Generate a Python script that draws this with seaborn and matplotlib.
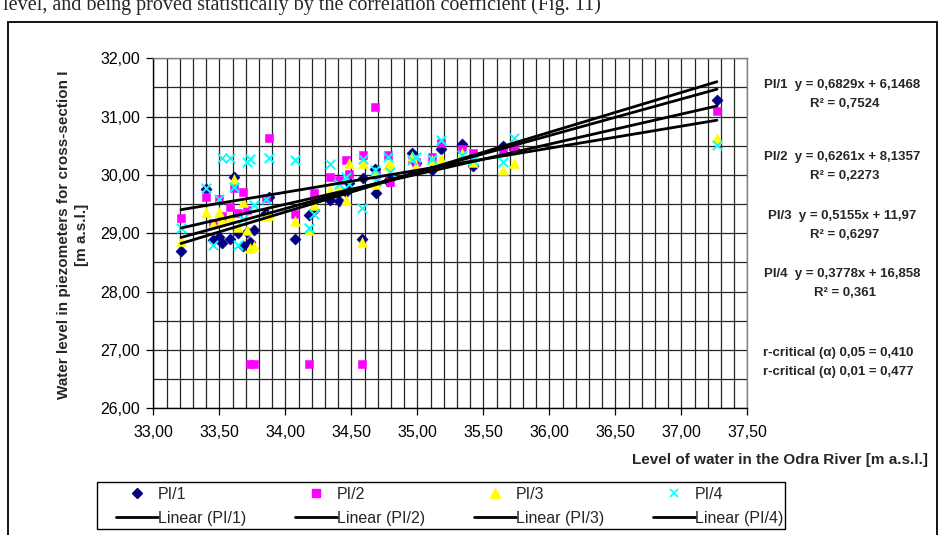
import numpy as np
import pandas as pd
import matplotlib
matplotlib.use("Agg")
import matplotlib.pyplot as plt
import seaborn as sns
from matplotlib.ticker import MultipleLocator, FuncFormatter
from matplotlib.lines import Line2D
from matplotlib.patches import Rectangle

# ---------------- data ----------------
river = [33.21, 33.40, 33.45, 33.50, 33.52, 33.58, 33.61, 33.64, 33.68, 33.71,
         33.73, 33.76, 33.85, 33.88, 34.07, 34.18, 34.22, 34.34, 34.41, 34.46,
         34.48, 34.58, 34.59, 34.68, 34.69, 34.78, 34.79, 34.96, 34.99, 35.11,
         35.18, 35.34, 35.42, 35.65, 35.73, 37.27]
pi1 = [28.70, 29.76, 28.88, 28.93, 28.84, 28.91, 29.97, 29.00, 28.78, 29.02,
       28.85, 29.05, 29.35, 29.62, 28.91, 29.31, 29.40, 29.57, 29.55, 29.70,
       29.87, 28.90, 29.94, 30.10, 29.69, 29.90, 29.95, 30.37, 30.20, 30.09,
       30.45, 30.53, 30.15, 30.50, 30.45, 31.29]
pi2 = [29.27, 29.62, 29.18, 29.59, 29.30, 29.45, 29.77, 29.34, 29.71, 29.40,
       26.76, 26.76, 29.60, 30.64, 29.33, 26.76, 29.69, 29.97, 29.92, 30.26,
       30.02, 26.76, 30.34, 31.17, 30.00, 30.34, 29.88, 30.27, 30.22, 30.31,
       30.54, 30.45, 30.38, 30.40, 30.48, 31.10]
pi3 = [28.86, 29.37, 29.16, 29.36, 29.22, 29.28, 29.93, 29.10, 29.53, 29.06,
       28.75, 28.79, 29.29, 29.32, 29.21, 29.06, 29.49, 29.74, 29.80, 29.57,
       30.21, 28.85, 30.20, 30.05, 29.85, 30.17, 30.21, 30.33, 30.15, 30.25,
       30.27, 30.37, 30.23, 30.09, 30.21, 30.64]
pi4 = [29.09, 29.77, 28.80, 29.58, 30.29, 30.29, 29.80, 28.80, 29.25, 30.23,
       30.27, 29.48, 29.59, 30.29, 30.25, 29.09, 29.33, 30.19, 29.85, 29.97,
       29.84, 29.44, 30.28, 30.08, 29.90, 30.31, 30.05, 30.25, 30.30, 30.28,
       30.60, 30.35, 30.25, 30.23, 30.63, 30.51]

series_names = ["PI/1", "PI/2", "PI/3", "PI/4"]
slopes = [0.6829, 0.6261, 0.5155, 0.3778]
intercepts = [6.1468, 8.1357, 11.97, 16.858]
eq_texts = ["y = 0,6829x + 6,1468", "y = 0,6261x + 8,1357",
            "y = 0,5155x + 11,97", "y = 0,3778x + 16,858"]
r2_texts = ["0,7524", "0,2273", "0,6297", "0,361"]
rcrit_texts = ["r-critical (\u03b1) 0,05 = 0,410", "r-critical (\u03b1) 0,01 = 0,477"]
x_label = "Level of water in the Odra River [m a.s.l.]"
y_label = "Water level in piezometers for cross-section I\n[m a.s.l.]"
top_text = "level, and being proved statistically by the correlation coefficient (Fig. 11)"

# ---------------- styles ----------------
colors = ["#000080", "#FF00FF", "#FFFF00", "#00FFFF"]
markers = ["D", "s", "^", "x"]
sizes = [32, 38, 50, 46]

sns.set_theme(style="white")
plt.rcParams["font.family"] = ["Liberation Sans", "DejaVu Sans"]

W, H = 945, 535
fig = plt.figure(figsize=(W / 100, H / 100), dpi=100)
fig.patch.set_facecolor("white")

def fx(px):
    return px / W

def fy(py):
    return 1 - py / H

ax = fig.add_axes([fx(153.3), fy(408.3), fx(747.3) - fx(153.3), fy(58.3) - fy(408.3)])

df = pd.DataFrame({"river": river, "PI/1": pi1, "PI/2": pi2, "PI/3": pi3, "PI/4": pi4})

for name, c, m, s in zip(series_names, colors, markers, sizes):
    if m == "x":
        sns.scatterplot(data=df, x="river", y=name, ax=ax, marker=m, color=c,
                        s=s, linewidth=1.4, zorder=3, legend=False)
    else:
        sns.scatterplot(data=df, x="river", y=name, ax=ax, marker=m, color=c,
                        s=s, edgecolor=c, linewidth=0.4, zorder=3, legend=False)

xmin, xmax = min(river), max(river)
for k, b in zip(slopes, intercepts):
    tl = pd.DataFrame({"x": [xmin, xmax], "y": [k * xmin + b, k * xmax + b]})
    sns.lineplot(data=tl, x="x", y="y", ax=ax, color="black", linewidth=2.0,
                 zorder=4, legend=False)

ax.set_xlim(33, 37.5)
ax.set_ylim(26, 32)
ax.xaxis.set_major_locator(MultipleLocator(0.5))
ax.xaxis.set_minor_locator(MultipleLocator(0.1))
ax.yaxis.set_major_locator(MultipleLocator(1.0))
ax.yaxis.set_minor_locator(MultipleLocator(0.5))
fmt = FuncFormatter(lambda v, p: f"{v:.2f}".replace(".", ","))
ax.xaxis.set_major_formatter(fmt)
ax.yaxis.set_major_formatter(fmt)
ax.grid(True, which="both", color="#262626", linewidth=0.9)
ax.set_axisbelow(True)
ax.tick_params(axis="both", which="major", direction="out", length=5, width=0.9,
               color="black", labelsize=11.5, labelcolor="black")
ax.tick_params(axis="x", which="major", pad=7, bottom=True)
ax.tick_params(axis="y", which="major", pad=4.5, left=True)
ax.tick_params(which="minor", length=0)
ax.set_xlabel("")
ax.set_ylabel("")
for sp in ["left", "bottom"]:
    ax.spines[sp].set_color("black")
    ax.spines[sp].set_linewidth(1.0)
for sp in ["top", "right"]:
    ax.spines[sp].set_color("#808080")
    ax.spines[sp].set_linewidth(1.0)

# axis titles
fig.text(fx(73), fy(235), y_label, rotation=90, ha="center", va="center",
         fontsize=11, fontweight="bold", linespacing=1.45, multialignment="center")
fig.text(fx(928), fy(460), x_label, ha="right", va="center",
         fontsize=11, fontweight="bold")

# right annotations
eq_y = [85, 157, 216, 274]
for name, eq, r2, yy in zip(series_names, eq_texts, r2_texts, eq_y):
    fig.text(fx(842), fy(yy), f"{name}  {eq}", ha="center", va="center",
             fontsize=9.5, fontweight="bold")
    fig.text(fx(845), fy(yy + 19), f"R\u00b2 = {r2}", ha="center", va="center",
             fontsize=9.5, fontweight="bold")
for t, yy in zip(rcrit_texts, [353, 372]):
    fig.text(fx(838), fy(yy), t, ha="center", va="center",
             fontsize=9.5, fontweight="bold")

# legend
handles, labels = [], []
for name, c, m in zip(series_names, colors, markers):
    if m == "x":
        handles.append(Line2D([], [], linestyle="none", marker=m, color=c,
                              markersize=6, markeredgewidth=1.2))
    else:
        handles.append(Line2D([], [], linestyle="none", marker=m, color=c,
                              markersize=5.5 if m != "^" else 6.5))
    labels.append(name)
    handles.append(Line2D([], [], color="black", linewidth=2.0))
    labels.append(f"Linear ({name})")
leg = fig.legend(handles, labels, ncol=4, loc="upper left",
                 bbox_to_anchor=(fx(116), fy(487), fx(783) - fx(116), 0.0),
                 mode="expand", frameon=False, fontsize=11.5, handlelength=2.6,
                 handletextpad=0.0, borderpad=0.0, labelspacing=0.55,
                 borderaxespad=0.0, numpoints=1)
fig.add_artist(Rectangle((fx(97), fy(529)), fx(785) - fx(97), fy(481.5) - fy(529),
                         transform=fig.transFigure, fill=False,
                         edgecolor="black", linewidth=1.0))

# outer chart frame
fig.add_artist(Rectangle((fx(8), -0.01), fx(937) - fx(8), fy(22) + 0.01,
                         transform=fig.transFigure, fill=False,
                         edgecolor="black", linewidth=1.3))

# clipped text of the page above the chart
fig.text(fx(3), fy(10), top_text, ha="left", va="baseline",
         fontsize=14.5, family=["Liberation Serif", "DejaVu Serif"])

fig.savefig("out.png", dpi=100, facecolor="white")
